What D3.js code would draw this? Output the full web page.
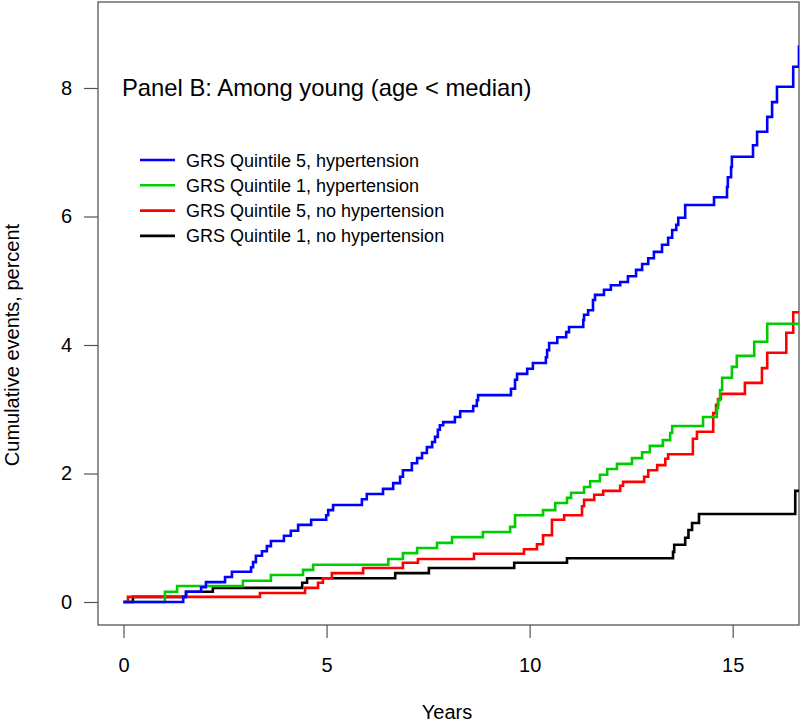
<!DOCTYPE html>
<html>
<head>
<meta charset="utf-8">
<script src="https://cdn.jsdelivr.net/npm/d3@7"></script>
<style>
  html, body { margin: 0; padding: 0; background: #fff; }
  svg { display: block; font-family: "Liberation Sans", Arial, sans-serif; }
</style>
</head>
<body>
<svg id="chart" width="800" height="724"></svg>
<script>
// ---------------- data ----------------
const xTicks = [0, 5, 10, 15];
const yTicks = [0, 2, 4, 6, 8];
const titleText = "Panel B: Among young (age < median)";
const xLabel = "Years";
const yLabel = "Cumulative events, percent";
const seriesNames = [
  "GRS Quintile 5, hypertension",
  "GRS Quintile 1, hypertension",
  "GRS Quintile 5, no hypertension",
  "GRS Quintile 1, no hypertension"
];
const seriesColors = ["#0000ff", "#00cd00", "#ff0000", "#000000"];

// GRS Quintile 5, hypertension (blue)
const q5htTime = [0, 1.47, 1.54, 1.91, 2.03, 2.50, 2.67, 3.14, 3.19, 3.26, 3.41, 3.53, 3.63, 3.95, 4.12, 4.30, 4.62, 4.99, 5.04, 5.16,
  5.87, 5.99, 6.39, 6.64, 6.81, 6.88, 7.10, 7.23, 7.35, 7.47, 7.60, 7.67, 7.74, 7.79, 7.87, 8.16, 8.29, 8.61, 8.70, 8.73,
  9.54, 9.64, 9.69, 9.94, 10.08, 10.40, 10.43, 10.48, 10.68, 10.90, 10.97, 11.32, 11.34, 11.44, 11.56, 11.61,
  11.83, 12.00, 12.23, 12.42, 12.62, 12.77, 12.92, 13.06, 13.26, 13.41, 13.51, 13.61, 13.66, 13.83,
  14.54, 14.86, 14.88, 14.96, 14.98, 15.50, 15.60, 15.85, 15.97, 16.09, 16.49, 16.63, 16.8];
const q5htValue = [0, 0.08, 0.16, 0.23, 0.31, 0.39, 0.47, 0.54, 0.62, 0.72, 0.79, 0.87, 0.95, 1.03, 1.11, 1.20, 1.28, 1.35, 1.43, 1.51,
  1.60, 1.68, 1.76, 1.85, 1.95, 2.05, 2.16, 2.24, 2.32, 2.41, 2.49, 2.57, 2.68, 2.75, 2.80, 2.88, 2.97, 3.05, 3.14, 3.22,
  3.32, 3.46, 3.55, 3.63, 3.72, 3.81, 3.92, 4.03, 4.12, 4.20, 4.28, 4.39, 4.47, 4.54, 4.70, 4.78,
  4.86, 4.93, 4.98, 5.07, 5.17, 5.26, 5.35, 5.45, 5.56, 5.67, 5.79, 5.87, 5.98, 6.18,
  6.30, 6.46, 6.61, 6.77, 6.93, 7.11, 7.32, 7.55, 7.78, 8.02, 8.33, 8.64, 8.64];

// GRS Quintile 1, hypertension (green)
const q1htTime = [0, 1.02, 1.32, 2.94, 3.63, 4.42, 4.67, 6.52, 6.88, 7.23, 7.72, 8.09, 8.85, 9.52, 9.64, 10.33, 10.63, 10.92, 11.02,
  11.34, 11.49, 11.73, 11.91, 12.15, 12.52, 12.77, 12.96, 13.28, 13.46, 13.51, 14.27, 14.61, 14.64, 14.69, 14.74, 14.98,
  15.10, 15.53, 15.85, 16.8];
const q1htValue = [0, 0.16, 0.25, 0.33, 0.42, 0.50, 0.58, 0.67, 0.76, 0.84, 0.92, 1.01, 1.09, 1.17, 1.35, 1.43, 1.54, 1.62, 1.70,
  1.79, 1.88, 1.98, 2.07, 2.15, 2.24, 2.33, 2.43, 2.52, 2.63, 2.74, 2.88, 3.02, 3.14, 3.30, 3.49, 3.66,
  3.83, 4.05, 4.33, 4.33];

// GRS Quintile 5, no hypertension (red)
const q5noTime = [0, 0.11, 3.36, 4.47, 4.79, 4.91, 5.13, 5.90, 6.88, 7.25, 8.63, 9.86, 10.18, 10.33, 10.55, 10.85, 11.29, 11.34,
  11.59, 11.81, 12.23, 12.30, 12.82, 12.92, 13.14, 13.34, 13.41, 14.02, 14.12, 14.52, 14.59, 14.64, 14.71,
  15.30, 15.72, 15.85, 16.32, 16.49, 16.8];
const q5noValue = [0, 0.08, 0.14, 0.22, 0.30, 0.37, 0.45, 0.53, 0.61, 0.67, 0.75, 0.82, 0.90, 1.04, 1.28, 1.35, 1.49, 1.59,
  1.67, 1.73, 1.81, 1.87, 1.95, 2.05, 2.13, 2.23, 2.30, 2.54, 2.65, 2.94, 3.07, 3.16, 3.24,
  3.41, 3.64, 3.88, 4.19, 4.51, 4.51];

// GRS Quintile 1, no hypertension (black)
const q1noTime = [0, 0.23, 1.54, 2.20, 4.40, 4.52, 6.69, 7.52, 9.62, 10.92, 13.53, 13.56, 13.83, 13.91, 14.00, 14.17, 16.54, 16.8];
const q1noValue = [0, 0.08, 0.16, 0.22, 0.30, 0.37, 0.45, 0.53, 0.61, 0.68, 0.78, 0.89, 1.00, 1.12, 1.23, 1.37, 1.73, 1.73];

// ---------------- layout ----------------
const svg = d3.select("#chart");
const box = { left: 98, right: 799, top: 2, bottom: 625 };
const x = d3.scaleLinear().domain([0, 15]).range([123.5, 732.7]);
const y = d3.scaleLinear().domain([0, 8]).range([602, 88]);

const defs = svg.append("defs");
defs.append("clipPath").attr("id", "plotclip")
  .append("rect")
  .attr("x", box.left).attr("y", box.top)
  .attr("width", box.right - box.left).attr("height", box.bottom - box.top);

// axes
const xAxis = svg.append("g")
  .attr("transform", `translate(0,${box.bottom})`)
  .call(d3.axisBottom(x).tickValues(xTicks).tickFormat(d3.format("d")).tickSize(13).tickPadding(20));
const yAxis = svg.append("g")
  .attr("transform", `translate(${box.left},0)`)
  .call(d3.axisLeft(y).tickValues(yTicks).tickFormat(d3.format("d")).tickSize(14).tickPadding(12));
[xAxis, yAxis].forEach(g => {
  g.select(".domain").remove();
  g.selectAll(".tick line").attr("stroke", "#555").attr("stroke-width", 1.2);
  g.selectAll(".tick text").attr("fill", "#000").style("font-size", "20px")
    .style("font-family", '"Liberation Sans", Arial, sans-serif');
});

// plot box
svg.append("rect")
  .attr("x", box.left).attr("y", box.top)
  .attr("width", box.right - box.left).attr("height", box.bottom - box.top)
  .attr("fill", "none").attr("stroke", "#555").attr("stroke-width", 1.3);

// curves
const series = [
  { t: q1noTime, v: q1noValue, color: seriesColors[3] },
  { t: q5noTime, v: q5noValue, color: seriesColors[2] },
  { t: q1htTime, v: q1htValue, color: seriesColors[1] },
  { t: q5htTime, v: q5htValue, color: seriesColors[0] }
];
const line = d3.line().x(d => x(d[0])).y(d => y(d[1])).curve(d3.curveStepAfter);
const plotG = svg.append("g").attr("clip-path", "url(#plotclip)");
series.forEach(s => {
  plotG.append("path")
    .datum(s.t.map((t, i) => [t, s.v[i]]))
    .attr("d", line)
    .attr("fill", "none")
    .attr("stroke", s.color)
    .attr("stroke-width", 2.6)
    .attr("stroke-linejoin", "miter")
    .attr("stroke-linecap", "butt");
});

// title
svg.append("text")
  .attr("x", 122).attr("y", 96)
  .style("font-size", "23.8px")
  .attr("fill", "#000")
  .text(titleText);

// legend
const legend = svg.append("g");
seriesNames.forEach((name, i) => {
  const yy = 160 + i * 25.3;
  legend.append("line")
    .attr("x1", 140).attr("x2", 175).attr("y1", yy).attr("y2", yy)
    .attr("stroke", seriesColors[i]).attr("stroke-width", 2.6);
  legend.append("text")
    .attr("x", 186).attr("y", yy + 6.5)
    .style("font-size", "18px")
    .attr("fill", "#000")
    .text(name);
});

// axis titles
svg.append("text")
  .attr("x", 447).attr("y", 719)
  .attr("text-anchor", "middle")
  .style("font-size", "20px")
  .text(xLabel);
svg.append("text")
  .attr("transform", "translate(19,345) rotate(-90)")
  .attr("text-anchor", "middle")
  .style("font-size", "20px")
  .text(yLabel);
</script>
</body>
</html>
